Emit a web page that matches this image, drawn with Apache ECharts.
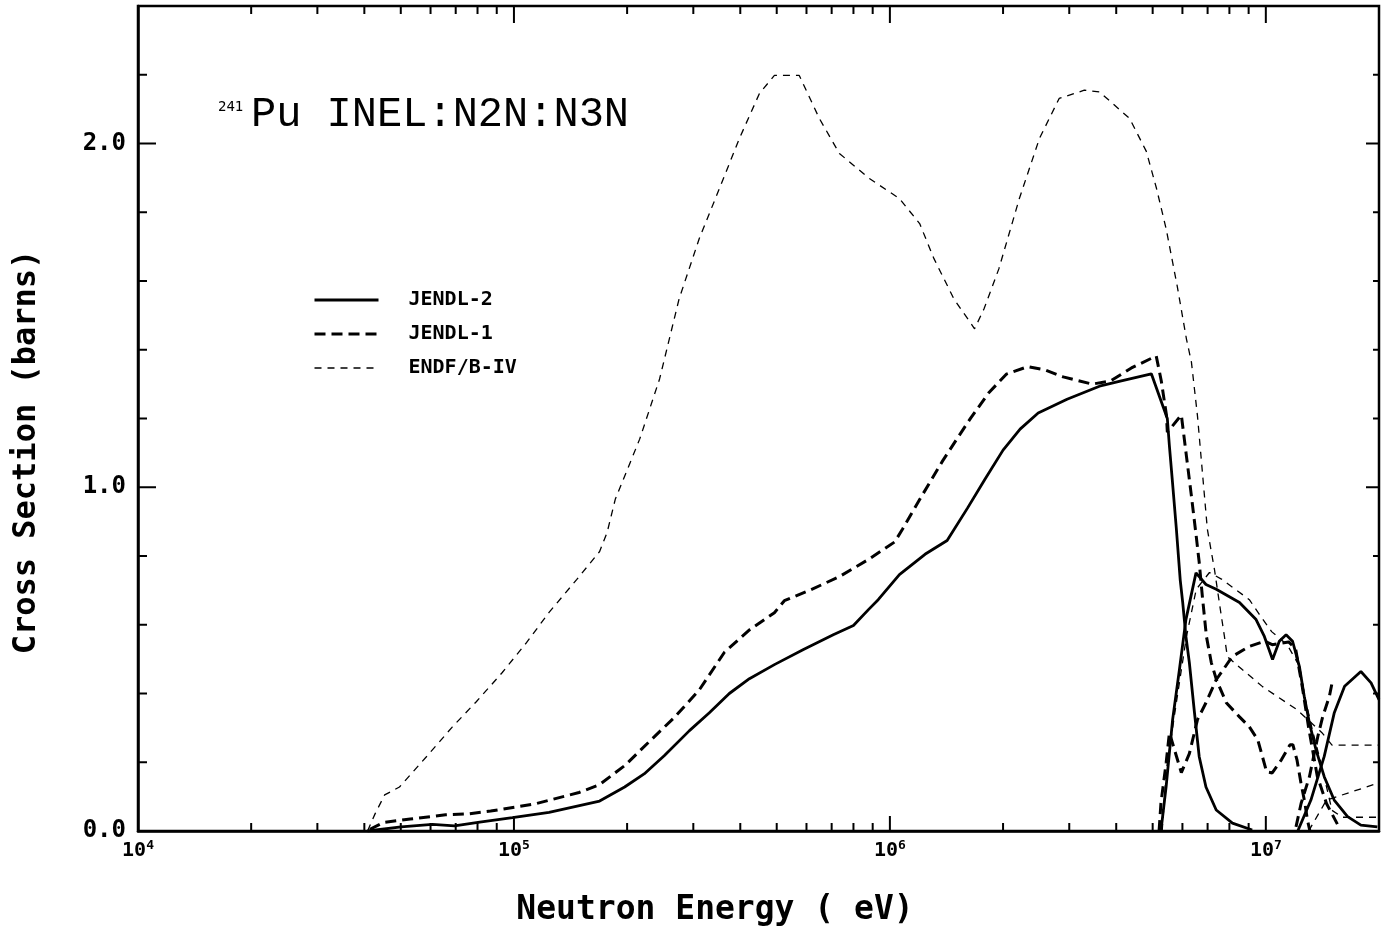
<!DOCTYPE html>
<html>
<head>
<meta charset="utf-8">
<script src="https://cdn.jsdelivr.net/npm/echarts@6/dist/echarts.min.js"></script>
<style>
html,body{margin:0;padding:0;background:#fff;}
#chart{width:1382px;height:933px;}
</style>
</head>
<body>
<div id="chart"></div>
<script>
// ---- data (energy in eV, cross section in barns) ----
const JENDL2_INEL = [[4.08e4,0],[5.01e4,0.012],[6.07e4,0.019],[6.95e4,0.015],[8.11e4,0.026],[9.91e4,0.039],[1.24e5,0.054],[1.69e5,0.087],[1.97e5,0.128],[2.22e5,0.166],[2.51e5,0.219],[2.93e5,0.292],[3.31e5,0.344],[3.74e5,0.4],[4.23e5,0.443],[4.93e5,0.484],[5.89e5,0.528],[7.07e5,0.571],[8.00e5,0.598],[8.77e5,0.644],[9.31e5,0.673],[1.06e6,0.746],[1.24e6,0.805],[1.42e6,0.845],[1.61e6,0.94],[1.79e6,1.023],[2.00e6,1.108],[2.22e6,1.169],[2.48e6,1.216],[2.96e6,1.256],[3.61e6,1.294],[4.10e6,1.309],[4.96e6,1.33],[5.47e6,1.2],[5.54e6,1.12],[5.64e6,1.02],[5.78e6,0.88],[5.92e6,0.73],[6.01e6,0.665],[6.13e6,0.566],[6.26e6,0.49],[6.46e6,0.344],[6.65e6,0.216],[6.93e6,0.128],[7.38e6,0.061],[8.15e6,0.023],[9.20e6,0.003]];
const JENDL2_N2N = [[5.26e6,0],[5.43e6,0.129],[5.65e6,0.324],[5.89e6,0.469],[6.13e6,0.615],[6.52e6,0.751],[6.93e6,0.717],[7.38e6,0.703],[8.51e6,0.665],[9.42e6,0.615],[9.91e6,0.566],[1.042e7,0.499],[1.086e7,0.552],[1.132e7,0.571],[1.178e7,0.552],[1.228e7,0.479],[1.265e7,0.392],[1.306e7,0.314],[1.36e7,0.236],[1.43e7,0.158],[1.52e7,0.09],[1.65e7,0.042],[1.79e7,0.017],[1.98e7,0.012]];
const JENDL2_N3N = [[1.216e7,0],[1.318e7,0.09],[1.43e7,0.217],[1.52e7,0.343],[1.62e7,0.421],[1.79e7,0.464],[1.905e7,0.431],[2.0e7,0.382]];

const JENDL1_INEL = [[4.14e4,0.005],[4.50e4,0.025],[5.30e4,0.035],[6.58e4,0.047],[7.58e4,0.05],[8.67e4,0.058],[1.14e5,0.079],[1.49e5,0.112],[1.69e5,0.135],[1.97e5,0.19],[2.29e5,0.26],[2.67e5,0.33],[3.11e5,0.41],[3.63e5,0.52],[4.23e5,0.585],[4.93e5,0.635],[5.24e5,0.67],[6.11e5,0.70],[7.34e5,0.74],[8.77e5,0.79],[1.03e6,0.841],[1.08e6,0.878],[1.21e6,0.971],[1.38e6,1.076],[1.50e6,1.137],[1.64e6,1.201],[1.83e6,1.274],[2.04e6,1.329],[2.33e6,1.351],[2.59e6,1.341],[2.89e6,1.321],[3.45e6,1.30],[3.86e6,1.309],[4.39e6,1.347],[5.11e6,1.382],[5.27e6,1.31],[5.44e6,1.21],[5.47e6,1.16],[5.96e6,1.21],[6.15e6,1.09],[6.34e6,0.974],[6.53e6,0.857],[6.65e6,0.781],[6.78e6,0.682],[6.95e6,0.566],[7.16e6,0.49],[7.39e6,0.44],[7.85e6,0.373],[8.51e6,0.332],[9.04e6,0.303],[9.52e6,0.265],[1.005e7,0.172],[1.04e7,0.169],[1.10e7,0.207],[1.16e7,0.251],[1.18e7,0.251],[1.21e7,0.207],[1.24e7,0.14],[1.27e7,0.082],[1.29e7,0.032],[1.31e7,0.0]];
const JENDL1_N2N = [[5.2e6,0],[5.26e6,0.081],[5.43e6,0.198],[5.54e6,0.286],[5.96e6,0.17],[6.26e6,0.225],[6.58e6,0.324],[6.93e6,0.373],[7.38e6,0.44],[8.15e6,0.508],[9.04e6,0.537],[9.93e6,0.552],[1.04e7,0.542],[1.15e7,0.55],[1.2e7,0.53],[1.25e7,0.42],[1.3e7,0.3],[1.37e7,0.16],[1.45e7,0.08],[1.55e7,0.02]];
const JENDL1_N3N = [[1.203e7,0.012],[1.241e7,0.08],[1.306e7,0.158],[1.375e7,0.275],[1.417e7,0.333],[1.476e7,0.392],[1.506e7,0.44]];

const ENDF_INEL = [[4.08e4,0.0],[4.28e4,0.052],[4.53e4,0.105],[4.96e4,0.128],[5.85e4,0.216],[6.86e4,0.303],[7.94e4,0.376],[9.31e4,0.461],[1.08e5,0.548],[1.24e5,0.636],[1.47e5,0.732],[1.69e5,0.813],[1.77e5,0.869],[1.86e5,0.965],[2.16e5,1.14],[2.44e5,1.315],[2.75e5,1.548],[3.11e5,1.723],[3.52e5,1.869],[3.98e5,2.015],[4.50e5,2.146],[4.93e5,2.198],[5.74e5,2.198],[6.49e5,2.073],[7.34e5,1.971],[8.82e5,1.898],[1.06e6,1.84],[1.20e6,1.767],[1.31e6,1.665],[1.48e6,1.548],[1.68e6,1.461],[1.78e6,1.519],[1.95e6,1.636],[2.21e6,1.84],[2.50e6,2.015],[2.82e6,2.131],[3.29e6,2.155],[3.61e6,2.15],[4.34e6,2.073],[4.81e6,1.977],[5.12e6,1.869],[5.43e6,1.752],[5.81e6,1.586],[6.15e6,1.431],[6.34e6,1.364],[6.58e6,1.207],[6.78e6,1.044],[6.99e6,0.878],[7.30e6,0.761],[7.52e6,0.665],[7.76e6,0.566],[7.90e6,0.507],[8.67e6,0.469],[9.80e6,0.42],[1.21e7,0.353],[1.41e7,0.286],[1.5e7,0.25],[2e7,0.25]];
const ENDF_N2N = [[5.3e6,0],[5.44e6,0.178],[5.78e6,0.373],[6.15e6,0.566],[6.53e6,0.703],[7.08e6,0.752],[7.64e6,0.732],[9.04e6,0.673],[9.61e6,0.63],[1.036e7,0.58],[1.14e7,0.542],[1.23e7,0.478],[1.27e7,0.39],[1.33e7,0.294],[1.40e7,0.2],[1.5e7,0.06],[1.6e7,0.04],[2e7,0.04]];
const ENDF_N3N = [[1.3e7,0],[1.45e7,0.09],[2e7,0.14]];

const LEGEND_NAMES = ['JENDL-2', 'JENDL-1', 'ENDF/B-IV'];
const X_MAJOR_TICKS = [1e5, 1e6, 1e7];
const X_MINOR_TICKS = [2e4,3e4,4e4,5e4,6e4,7e4,8e4,9e4,2e5,3e5,4e5,5e5,6e5,7e5,8e5,9e5,2e6,3e6,4e6,5e6,6e6,7e6,8e6,9e6];
const Y_MAJOR_TICKS = [1.0, 2.0];
const Y_MINOR_TICKS = [0.2,0.4,0.6,0.8,1.2,1.4,1.6,1.8,2.2];
const TITLE_SUP = '241';
const TITLE_MAIN = 'Pu INEL:N2N:N3N';
const X_TITLE = 'Neutron Energy ( eV)';
const Y_TITLE = 'Cross Section (barns)';

// ---- chart ----
const MONO = '"DejaVu Sans Mono", "Liberation Mono", monospace';
const chart = echarts.init(document.getElementById('chart'), null, {renderer: 'canvas'});

const styles = {
  'JENDL-2': {type: 'solid', width: 2.8},
  'JENDL-1': {type: [11, 6], width: 3},
  'ENDF/B-IV': {type: [7, 6], width: 1.3}
};
function lineSeries(name, data) {
  return {
    name: name, type: 'line', data: data, symbol: 'none', showSymbol: false,
    silent: true, animation: false, clip: true,
    lineStyle: Object.assign({color: '#000', cap: 'butt'}, styles[name]),
    itemStyle: {color: '#000'},
    emphasis: {disabled: true}
  };
}

const xTickData = X_MAJOR_TICKS.map(v => [v, 1]).concat(X_MINOR_TICKS.map(v => [v, 0]));
const yTickData = Y_MAJOR_TICKS.map(v => [1e4, v, 1]).concat(Y_MINOR_TICKS.map(v => [1e4, v, 0]));

const option = {
  backgroundColor: '#fff',
  animation: false,
  grid: {left: 138, right: 3, top: 6, bottom: 102, show: true, borderColor: '#000', borderWidth: 2.5, backgroundColor: 'transparent'},
  xAxis: {
    type: 'log', logBase: 10, min: 1e4, max: 2e7,
    axisLine: {show: true, lineStyle: {color: '#000', width: 2.5}},
    axisTick: {show: false}, splitLine: {show: false}, minorTick: {show: false},
    axisLabel: {
      margin: 8,
      formatter: function (v) {
        const lg = Math.log10(v);
        if (Math.abs(lg - Math.round(lg)) > 1e-6) return '';
        return '{b|10}{s|' + Math.round(lg) + '}';
      },
      rich: {
        b: {fontFamily: MONO, fontWeight: 'bold', fontSize: 20, color: '#000', verticalAlign: 'bottom', lineHeight: 22},
        s: {fontFamily: MONO, fontWeight: 'bold', fontSize: 13, color: '#000', verticalAlign: 'top', lineHeight: 22}
      }
    }
  },
  yAxis: {
    type: 'value', min: 0, max: 2.4, interval: 0.2,
    axisLine: {show: true, lineStyle: {color: '#000', width: 2.5}},
    axisTick: {show: false}, splitLine: {show: false},
    axisLabel: {
      margin: 12, color: '#000', fontFamily: MONO, fontWeight: 'bold', fontSize: 24,
      formatter: function (v) {
        if (Math.abs(v - Math.round(v)) > 1e-6) return '';
        return v.toFixed(1);
      }
    }
  },
  legend: {
    data: LEGEND_NAMES.map(n => ({name: n, lineStyle: {width: styles[n].width, type: styles[n].type, color: '#000'}})),
    orient: 'vertical', left: 313, top: 290, padding: 0,
    itemWidth: 64, itemHeight: 14, itemGap: 14, selectedMode: false,
    itemStyle: {opacity: 0, borderWidth: 0},
    textStyle: {fontFamily: MONO, fontWeight: 'bold', fontSize: 20, color: '#000', padding: [0, 0, 0, 25]}
  },
  graphic: [
    {type: 'text', left: 218, top: 100, silent: true,
     style: {text: TITLE_SUP, fontFamily: MONO, fontSize: 14, fill: '#000'}},
    {type: 'text', left: 251, top: 94, silent: true,
     style: {text: TITLE_MAIN, fontFamily: '"Liberation Mono", monospace', fontSize: 42, fill: '#000'}},
    {type: 'text', x: 715, y: 910, silent: true,
     style: {text: X_TITLE, fontFamily: MONO, fontWeight: 'bold', fontSize: 33, fill: '#000', align: 'center', verticalAlign: 'middle'}},
    {type: 'text', x: 27, y: 452, rotation: Math.PI / 2, silent: true,
     style: {text: Y_TITLE, fontFamily: MONO, fontWeight: 'bold', fontSize: 32, fill: '#000', align: 'center', verticalAlign: 'middle'}}
  ],
  series: [
    lineSeries('ENDF/B-IV', ENDF_INEL),
    lineSeries('ENDF/B-IV', ENDF_N2N),
    lineSeries('ENDF/B-IV', ENDF_N3N),
    lineSeries('JENDL-1', JENDL1_INEL),
    lineSeries('JENDL-1', JENDL1_N2N),
    lineSeries('JENDL-1', JENDL1_N3N),
    lineSeries('JENDL-2', JENDL2_INEL),
    lineSeries('JENDL-2', JENDL2_N2N),
    lineSeries('JENDL-2', JENDL2_N3N),
    {
      name: 'xticks', type: 'custom', data: xTickData, silent: true, animation: false,
      renderItem: function (params, api) {
        const cs = params.coordSys;
        const major = api.value(1) === 1;
        const p = api.coord([api.value(0), 0]);
        const lb = major ? 15 : 8, lt = major ? 17 : 8;
        const bottom = cs.y + cs.height, top = cs.y;
        return {type: 'group', children: [
          {type: 'line', shape: {x1: p[0], y1: bottom, x2: p[0], y2: bottom - lb}, style: {stroke: '#000', lineWidth: 2}},
          {type: 'line', shape: {x1: p[0], y1: top, x2: p[0], y2: top + lt}, style: {stroke: '#000', lineWidth: 2}}
        ]};
      }
    },
    {
      name: 'yticks', type: 'custom', data: yTickData, silent: true, animation: false,
      renderItem: function (params, api) {
        const cs = params.coordSys;
        const major = api.value(2) === 1;
        const p = api.coord([api.value(0), api.value(1)]);
        const ll = major ? 18 : 9, lr = major ? 13 : 6;
        const left = cs.x, right = cs.x + cs.width;
        return {type: 'group', children: [
          {type: 'line', shape: {x1: left, y1: p[1], x2: left + ll, y2: p[1]}, style: {stroke: '#000', lineWidth: 2}},
          {type: 'line', shape: {x1: right, y1: p[1], x2: right - lr, y2: p[1]}, style: {stroke: '#000', lineWidth: 2}}
        ]};
      }
    }
  ]
};
chart.setOption(option);
</script>
</body>
</html>
